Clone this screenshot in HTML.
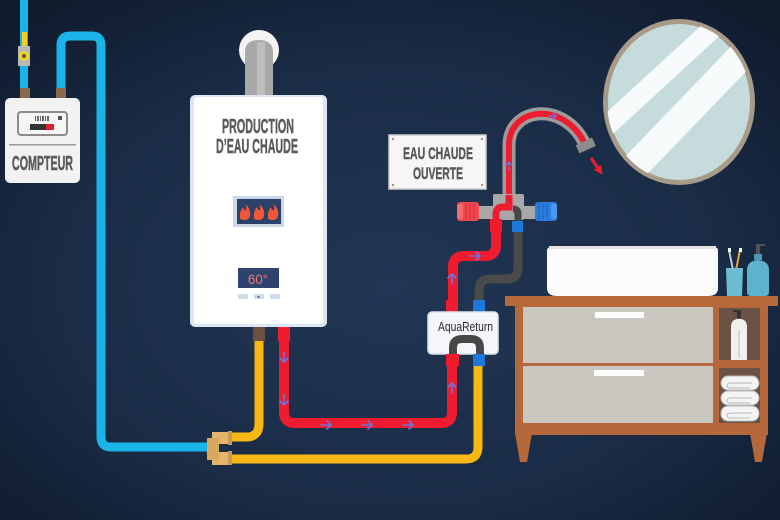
<!DOCTYPE html>
<html><head><meta charset="utf-8"><style>
html,body{margin:0;padding:0;background:#16243a;}
svg{display:block;}
text{font-family:"Liberation Sans",sans-serif;}
</style></head><body>
<svg width="780" height="520" viewBox="0 0 780 520" xmlns="http://www.w3.org/2000/svg">
<defs>
<radialGradient id="bg" cx="50%" cy="55%" r="70%">
<stop offset="0" stop-color="#213654"/>
<stop offset="0.6" stop-color="#1a2c46"/>
<stop offset="1" stop-color="#101b2d"/>
</radialGradient>
<clipPath id="mir"><ellipse cx="679" cy="102" rx="72" ry="79"/></clipPath>
<marker id="ah" viewBox="0 0 10 10" refX="5" refY="5" markerWidth="3" markerHeight="3" orient="auto"><path d="M0 0L10 5L0 10Z" fill="#ee1c2e"/></marker>
</defs>
<rect width="780" height="520" fill="url(#bg)"/>

<!-- Mirror -->
<ellipse cx="679" cy="102" rx="76" ry="83" fill="#a89a88"/>
<ellipse cx="679" cy="102" rx="71" ry="78" fill="#c6dcdc"/>
<g clip-path="url(#mir)" stroke="#f8fbfb" stroke-linecap="butt">
<line x1="722" y1="20" x2="598" y2="134" stroke-width="20"/>
<line x1="752" y1="45" x2="624" y2="178" stroke-width="28"/>
</g>

<!-- Top left blue inlet pipe -->
<rect x="20" y="0" width="8" height="90" fill="#1ab4e8"/>
<rect x="22" y="32" width="5" height="16" fill="#f2cf1e"/>
<rect x="18" y="46" width="12" height="20" fill="#b8b8b8"/>
<circle cx="24" cy="56" r="5" fill="#f4d21c"/>
<circle cx="24" cy="56" r="2" fill="#555"/>
<!-- Second blue pipe -->
<path d="M61 90 V45 Q61 36 70 36 H92 Q101 36 101 45 V437 Q101 447 111 447 H210" fill="none" stroke="#1ab4e8" stroke-width="9"/>
<rect x="20" y="88" width="10" height="10" fill="#8a6a4e"/>
<rect x="56" y="88" width="10" height="10" fill="#8a6a4e"/>

<!-- Meter -->
<rect x="5" y="98" width="75" height="85" rx="5" fill="#f2f2f2"/>
<rect x="18" y="112" width="49" height="23" rx="3" fill="#f6f6f6" stroke="#8c8c8c" stroke-width="2"/>
<g fill="#666"><rect x="35" y="116" width="1" height="5"/><rect x="37" y="116" width="2" height="5"/><rect x="40" y="116" width="1" height="5"/><rect x="42" y="116" width="2" height="5"/><rect x="45" y="116" width="1" height="5"/><rect x="47" y="116" width="2" height="5"/></g>
<rect x="58" y="116" width="4" height="4" fill="#555"/>
<rect x="30" y="124" width="16" height="6" fill="#333"/>
<rect x="46" y="124" width="8" height="6" fill="#e02030"/>
<rect x="9" y="144" width="67" height="1.5" fill="#9a9a9a"/>
<text x="42.5" y="170" font-size="20" font-weight="bold" fill="#5a5a5a" stroke="#5a5a5a" stroke-width="0.5" text-anchor="middle" textLength="61" lengthAdjust="spacingAndGlyphs">COMPTEUR</text>

<!-- Boiler chimney -->
<circle cx="259" cy="50" r="20" fill="#f4f4f4"/>
<path d="M245 98 V52 Q245 40 259 40 Q273 40 273 52 V98 Z" fill="#a9a9a9"/>
<rect x="257" y="42" width="8" height="56" fill="#bdbdbd"/>

<!-- Boiler body -->
<rect x="190" y="95" width="137" height="232" rx="5" fill="#dce7f3"/>
<rect x="194" y="97" width="129" height="227" rx="3" fill="#ffffff"/>
<text x="258" y="133" font-size="20" font-weight="bold" fill="#5b5b5b" stroke="#5b5b5b" stroke-width="0.5" text-anchor="middle" textLength="72" lengthAdjust="spacingAndGlyphs">PRODUCTION</text>
<text x="257" y="153" font-size="20" font-weight="bold" fill="#5b5b5b" stroke="#5b5b5b" stroke-width="0.5" text-anchor="middle" textLength="82" lengthAdjust="spacingAndGlyphs">D’EAU CHAUDE</text>
<rect x="233" y="196" width="51" height="31" fill="#cdd8e6"/>
<rect x="237" y="199" width="44" height="25" fill="#2b416a"/>
<g fill="#f0583a">
<path transform="translate(245,213)" d="M-5 5 Q-6 -1 -2 -6 Q-1 -2 1 -3 Q2 -7 0 -9 Q6 -5 5 3 Q4 7 0 7 Q-5 7 -5 5 Z"/>
<path transform="translate(259,213)" d="M-5 5 Q-6 -1 -2 -6 Q-1 -2 1 -3 Q2 -7 0 -9 Q6 -5 5 3 Q4 7 0 7 Q-5 7 -5 5 Z"/>
<path transform="translate(273,213)" d="M-5 5 Q-6 -1 -2 -6 Q-1 -2 1 -3 Q2 -7 0 -9 Q6 -5 5 3 Q4 7 0 7 Q-5 7 -5 5 Z"/>
</g>
<rect x="238" y="268" width="41" height="20" fill="#2e4270"/>
<text x="258" y="284" font-size="14" fill="#ee7a68" text-anchor="middle" textLength="20" lengthAdjust="spacingAndGlyphs">60°</text>
<rect x="238" y="294" width="10" height="5" fill="#cfdcee"/>
<rect x="254" y="294" width="10" height="5" fill="#cfdcee"/>
<rect x="270" y="294" width="10" height="5" fill="#cfdcee"/>
<rect x="257" y="296" width="3" height="2" fill="#7a8cb0"/>

<!-- Yellow pipes -->
<path d="M259 340 V424 Q259 437 246 437 H228" fill="none" stroke="#f7b813" stroke-width="9"/>
<path d="M228 459 H466 Q478 459 478 447 V365" fill="none" stroke="#f7b813" stroke-width="9"/>
<rect x="253" y="327" width="12" height="14" fill="#6e5040"/>
<rect x="278" y="327" width="12" height="14" fill="#ee1c2e"/>

<!-- Red loop pipe -->
<path d="M284 340 V412 Q284 423 295 423 H441 Q452 423 452 412 V362" fill="none" stroke="#ee1c2e" stroke-width="10"/>
<g fill="none" stroke="#6d72dc" stroke-width="1.6" stroke-linecap="round" stroke-linejoin="round">
<path d="M284 352 V362 M280 358 L284 362 L288 358"/>
<path d="M284 395 V405 M280 401 L284 405 L288 401"/>
<path d="M321 425 H331 M327 421 L331 425 L327 429"/>
<path d="M362 425 H372 M368 421 L372 425 L368 429"/>
<path d="M403 425 H413 M409 421 L413 425 L409 429"/>
<path d="M452 393 V383 M448 387 L452 383 L456 387"/>
</g>

<!-- Brass fitting -->
<rect x="212" y="432" width="20" height="12" fill="#e4b46a"/>
<rect x="212" y="452" width="20" height="13" fill="#e4b46a"/>
<rect x="207" y="438" width="12" height="22" fill="#d8a85c"/>
<rect x="228" y="431" width="4" height="14" fill="#c99a55"/>
<rect x="228" y="451" width="4" height="14" fill="#c99a55"/>

<!-- Pipes between AquaReturn and faucet -->
<path d="M479 302 V290 Q479 279 490 279 H507 Q518 279 518 268 V228" fill="none" stroke="#4a4a4a" stroke-width="9"/>
<path d="M453 302 V267 Q453 256 464 256 H485 Q496 256 496 245 V228" fill="none" stroke="#ee1c2e" stroke-width="10"/>
<g fill="none" stroke="#6d72dc" stroke-width="1.6" stroke-linecap="round" stroke-linejoin="round">
<path d="M470 256 H480 M476 252 L480 256 L476 260"/>
<path d="M452 284 V274 M448 278 L452 274 L456 278"/>
</g>

<!-- AquaReturn box -->
<rect x="446" y="300" width="12" height="14" fill="#ee1c2e"/>
<rect x="473" y="300" width="12" height="14" fill="#1e78d8"/>
<rect x="428" y="312" width="70" height="42" rx="4" fill="#f4f6f9" stroke="#dde3ea" stroke-width="1.5"/>
<text x="465.5" y="331" font-size="12.5" fill="#2a2a2a" text-anchor="middle" textLength="55" lengthAdjust="spacingAndGlyphs">AquaReturn</text>
<path d="M453 358 V348 Q453 339 462 339 H471 Q480 339 480 348 V358" fill="none" stroke="#474747" stroke-width="8"/>
<rect x="446" y="354" width="13" height="12" fill="#ee1c2e"/>
<rect x="473" y="354" width="12" height="12" fill="#1e78d8"/>

<!-- Faucet -->
<path d="M509 205 V145 C509 108 562 100 584 142" fill="none" stroke="#9c9c9c" stroke-width="13"/>
<path d="M509 205 V145 C509 108 562 100 584 142" fill="none" stroke="#ee1c2e" stroke-width="6"/>
<rect x="577" y="141" width="18" height="9" fill="#8c8c8c" transform="rotate(-25 586 146)"/>
<g fill="none" stroke="#6d72dc" stroke-width="1.4" stroke-linecap="round">
<path d="M509 170 V162 M506 165 L509 162 L512 165"/>
<path d="M549 116 H556 M553 113 L556 116 L553 119"/>
</g>
<line x1="591" y1="158" x2="600" y2="171" stroke="#ee1c2e" stroke-width="3" marker-end="url(#ah)"/>
<rect x="476" y="206" width="62" height="13" fill="#a8a8a8"/>
<rect x="493" y="194" width="31" height="26" rx="2" fill="#a8a8a8"/>
<path d="M496 222 V214 Q496 207 503 207 H509 V195" fill="none" stroke="#ee1c2e" stroke-width="7"/>
<path d="M518 224 V214 Q518 209 513 209" fill="none" stroke="#474747" stroke-width="7"/>
<rect x="457" y="202" width="22" height="19" rx="3" fill="#f04850"/>
<rect x="457" y="204" width="6" height="15" rx="2" fill="#f46a70"/>
<g stroke="#d03038" stroke-width="1"><line x1="466" y1="203" x2="466" y2="220"/><line x1="470" y1="203" x2="470" y2="220"/><line x1="474" y1="203" x2="474" y2="220"/></g>
<rect x="535" y="202" width="22" height="19" rx="3" fill="#2a7ee0"/>
<rect x="551" y="204" width="6" height="15" rx="2" fill="#4b98ec"/>
<g stroke="#1d62b8" stroke-width="1"><line x1="539" y1="203" x2="539" y2="220"/><line x1="543" y1="203" x2="543" y2="220"/><line x1="547" y1="203" x2="547" y2="220"/></g>
<rect x="490" y="219" width="12" height="13" fill="#ee1c2e"/>
<rect x="512" y="221" width="11" height="11" fill="#1e78d8"/>

<!-- Label -->
<rect x="389" y="135" width="97" height="54" fill="#f6f6f6" stroke="#cfcfcf" stroke-width="1.5"/>
<g fill="#999"><circle cx="393" cy="139" r="1.2"/><circle cx="482" cy="139" r="1.2"/><circle cx="393" cy="185" r="1.2"/><circle cx="482" cy="185" r="1.2"/></g>
<text x="438" y="159" font-size="17" font-weight="bold" fill="#575757" stroke="#575757" stroke-width="0.4" text-anchor="middle" textLength="70" lengthAdjust="spacingAndGlyphs">EAU CHAUDE</text>
<text x="438" y="179" font-size="17" font-weight="bold" fill="#575757" stroke="#575757" stroke-width="0.4" text-anchor="middle" textLength="50" lengthAdjust="spacingAndGlyphs">OUVERTE</text>

<!-- Vanity -->
<path d="M515 433 H532 L527 462 H520 Z" fill="#b5693a"/>
<path d="M750 433 H767 L762 462 H755 Z" fill="#b5693a"/>
<rect x="515" y="304" width="253" height="131" fill="#b5693a"/>
<rect x="505" y="296" width="273" height="10" fill="#b8693a"/>
<rect x="523" y="307" width="190" height="56" fill="#c9c6bf"/>
<rect x="523" y="366" width="190" height="57" fill="#c9c6bf"/>
<rect x="595" y="312" width="49" height="6" fill="#ffffff"/>
<rect x="594" y="370" width="50" height="6" fill="#ffffff"/>
<rect x="719" y="308" width="41" height="52" fill="#6a5244"/>
<rect x="719" y="368" width="41" height="55" fill="#6a5244"/>
<rect x="737" y="310" width="4" height="8" fill="#333"/>
<rect x="733" y="310" width="6" height="2" fill="#333"/>
<path d="M731 327 Q731 320 737 319 H741 Q747 320 747 327 V360 H731 Z" fill="#f2f0ee"/>
<line x1="739" y1="330" x2="739" y2="358" stroke="#bbb" stroke-width="1"/>
<g fill="#f4f4f4" stroke="#b9b9b9" stroke-width="1">
<rect x="721" y="376" width="38" height="14" rx="7"/>
<rect x="721" y="391" width="38" height="14" rx="7"/>
<rect x="721" y="406" width="38" height="15" rx="7"/>
</g>
<g fill="none" stroke="#b9b9b9" stroke-width="1">
<path d="M752 383 H731 Q727 383 727 386 Q727 388 731 388 H750"/>
<path d="M752 398 H731 Q727 398 727 401 Q727 403 731 403 H750"/>
<path d="M752 413 H731 Q727 413 727 416 Q727 418 731 418 H750"/>
</g>
<path d="M547 250 Q547 246 560 246 H705 Q718 246 718 250 V288 Q718 296 708 296 H557 Q547 296 547 288 Z" fill="#fbfbfb"/>
<rect x="549" y="246" width="167" height="3" fill="#e6e2de"/>
<line x1="729" y1="250" x2="733" y2="270" stroke="#c0c8d0" stroke-width="2"/>
<line x1="740" y1="250" x2="736" y2="270" stroke="#e8a93a" stroke-width="2"/>
<rect x="728" y="248" width="3" height="4" fill="#fff"/>
<rect x="739" y="248" width="3" height="4" fill="#fff"/>
<path d="M726 268 H743 L742 296 H727 Z" fill="#6cbcd2"/>
<rect x="756" y="244" width="4" height="10" fill="#555"/>
<rect x="756" y="244" width="9" height="2" fill="#555"/>
<rect x="754" y="254" width="8" height="6" fill="#4a9ab2"/>
<path d="M747 270 Q747 261 758 260 Q769 261 769 270 V292 Q769 296 765 296 H751 Q747 296 747 292 Z" fill="#5db3cc"/>
</svg>
</body></html>
